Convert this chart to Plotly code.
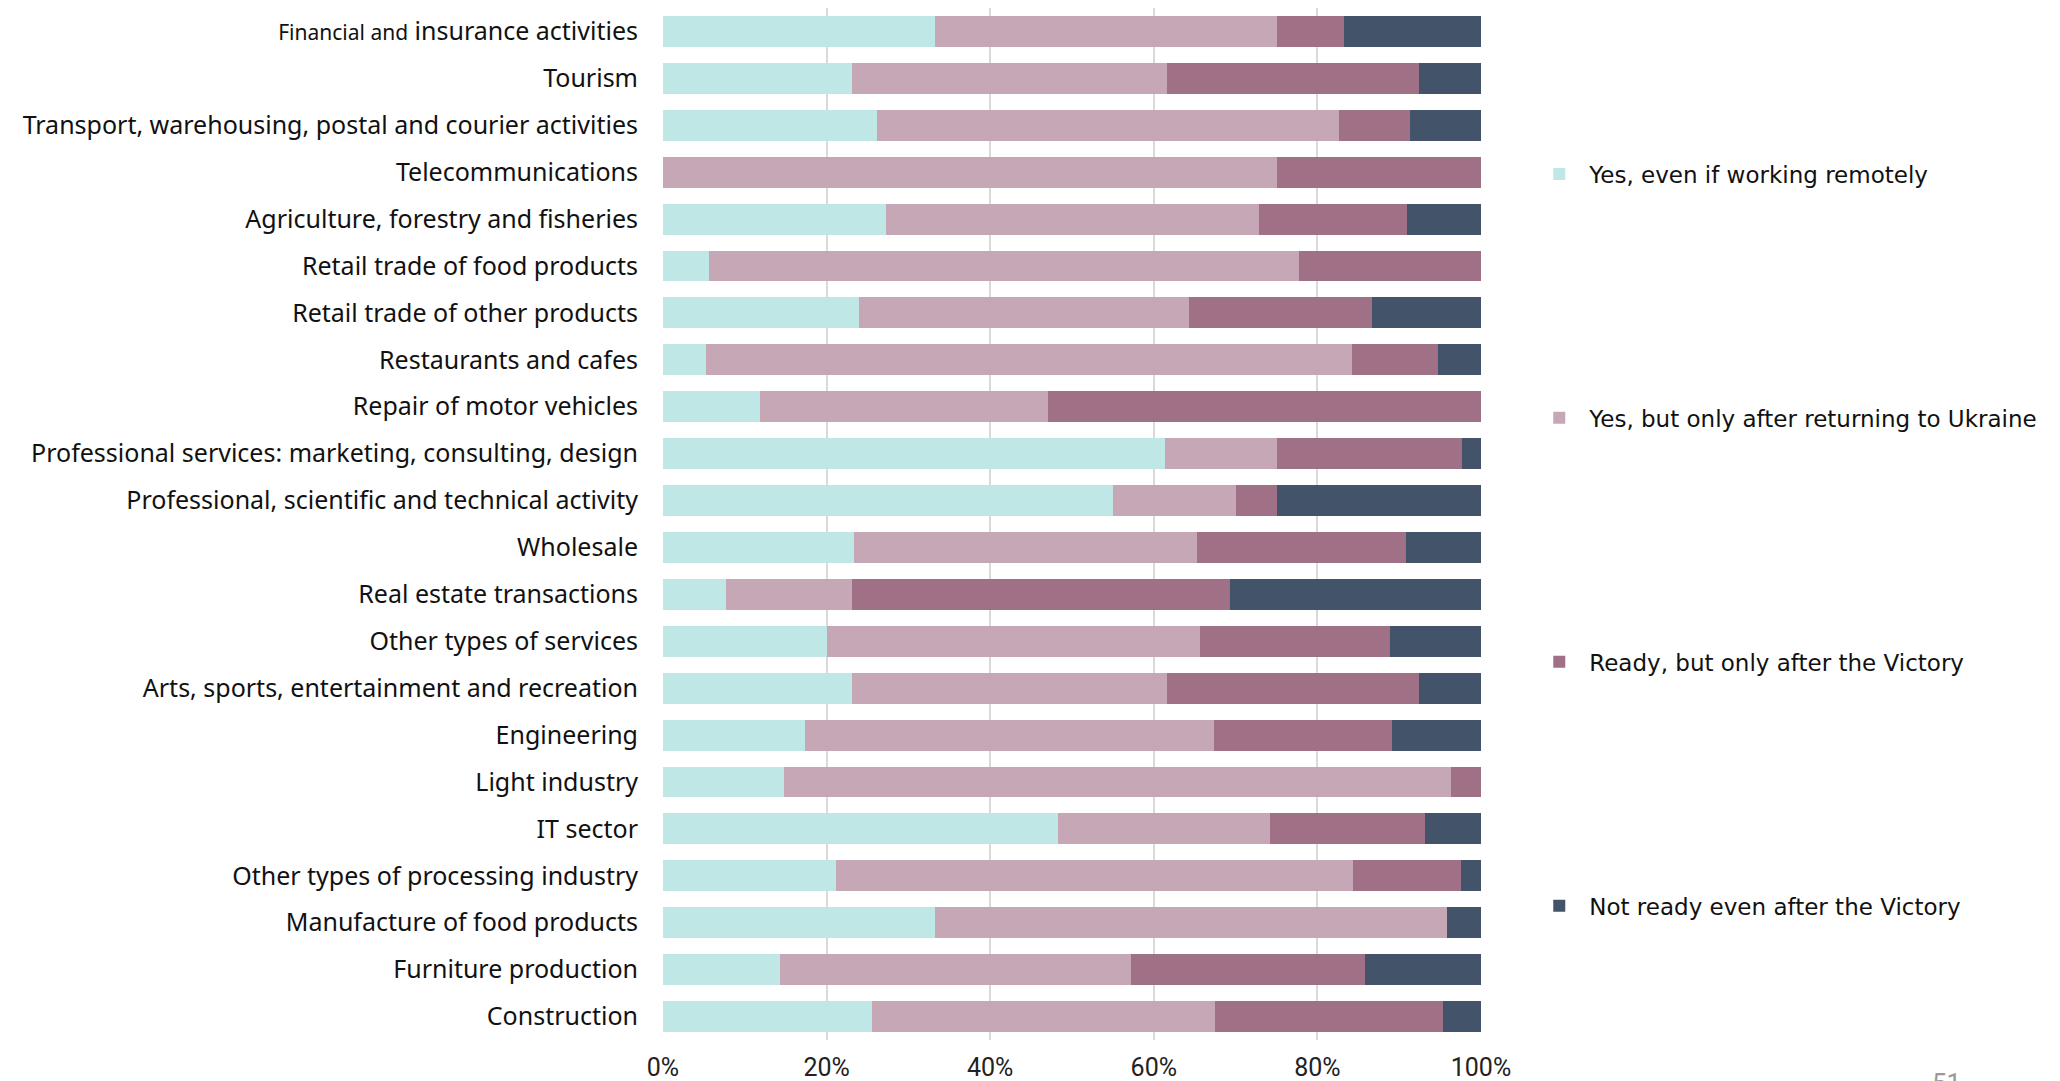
import plotly.graph_objects as go

# Sectors, top to bottom as drawn
sectors = [
    "Financial and insurance activities",
    "Tourism",
    "Transport, warehousing, postal and courier activities",
    "Telecommunications",
    "Agriculture, forestry and fisheries",
    "Retail trade of food products",
    "Retail trade of other products",
    "Restaurants and cafes",
    "Repair of motor vehicles",
    "Professional services: marketing, consulting, design",
    "Professional, scientific and technical activity",
    "Wholesale",
    "Real estate transactions",
    "Other types of services",
    "Arts, sports, entertainment and recreation",
    "Engineering",
    "Light industry",
    "IT sector",
    "Other types of processing industry",
    "Manufacture of food products",
    "Furniture production",
    "Construction",
]

# Shares, % (same order as sectors)
yes_remote = [33.3, 23.1, 26.1, 0.0, 27.3, 5.6, 23.9, 5.3, 11.8, 61.4, 55.0,
              23.4, 7.7, 20.0, 23.1, 17.4, 14.8, 48.3, 21.1, 33.3, 14.3, 25.6]
yes_after_return = [41.7, 38.5, 56.5, 75.0, 45.5, 72.2, 40.4, 78.9, 35.3, 13.6, 15.0,
                    41.9, 15.4, 45.6, 38.5, 50.0, 81.5, 25.9, 63.2, 62.5, 42.9, 41.9]
after_victory = [8.3, 30.8, 8.7, 25.0, 18.2, 22.2, 22.4, 10.5, 52.9, 22.7, 5.0,
                 25.5, 46.2, 23.3, 30.8, 21.7, 3.7, 19.0, 13.2, 0.0, 28.6, 27.9]
not_ready = [16.7, 7.7, 8.7, 0.0, 9.1, 0.0, 13.3, 5.3, 0.0, 2.3, 25.0,
             9.2, 30.8, 11.1, 7.7, 10.9, 0.0, 6.9, 2.6, 4.2, 14.3, 4.7]

series_names = [
    "Yes, even if working remotely",
    "Yes, but only after returning to Ukraine",
    "Ready, but only after the Victory",
    "Not ready even after the Victory",
]
colors = ["#BFE7E6", "#C5A7B5", "#A07087", "#43536A"]

x_ticks = [0, 20, 40, 60, 80, 100]
x_tick_labels = ["0%", "20%", "40%", "60%", "80%", "100%"]

tick_text = list(sectors)
tick_text[0] = '<span style="font-size:21px">Financial and</span> insurance activities'

fig = go.Figure()
for name, vals, col in zip(series_names,
                           [yes_remote, yes_after_return, after_victory, not_ready],
                           colors):
    fig.add_trace(go.Bar(
        y=sectors, x=vals, name=name, orientation="h",
        marker=dict(color=col, line=dict(width=0)),
        legendgroup=name,
    ))

fig.update_layout(
    width=2060, height=1081,
    barmode="stack", bargap=0.34,
    paper_bgcolor="white", plot_bgcolor="white",
    margin=dict(l=655, r=587, t=0, b=48.5),
    font=dict(family="Noto Sans, sans-serif", color="#111111"),
    legend=dict(
        x=1.059, y=0.86, xanchor="left", yanchor="top",
        traceorder="grouped", tracegroupgap=211,
        font=dict(family="DejaVu Sans", size=23, color="#111111"),
        itemwidth=50,
    ),
    xaxis=dict(
        range=[0, 100], tickvals=x_ticks, ticktext=x_tick_labels,
        showgrid=True, gridcolor="#D9D9D9", gridwidth=1.5,
        zeroline=False, showline=False, automargin=False,
        ticks="outside", ticklen=5, tickcolor="rgba(0,0,0,0)",
        tickfont=dict(family="Liberation Sans Narrow, Roboto", size=25, color="#222222"),
    ),
    yaxis=dict(
        categoryorder="array", categoryarray=sectors,
        autorange="reversed", automargin=False,
        tickvals=sectors, ticktext=tick_text,
        showgrid=False, zeroline=False, showline=False,
        ticklabelstandoff=24,
        tickfont=dict(family="Noto Sans", size=25, color="#111111"),
    ),
    showlegend=True,
)

# page number cut off at the bottom edge
fig.add_annotation(
    text="51", xref="paper", yref="paper", x=1.549, y=-0.025,
    xanchor="left", yanchor="top", showarrow=False,
    font=dict(family="Roboto", size=26, color="#9A9A9A"),
)

fig.write_html("out.html")
